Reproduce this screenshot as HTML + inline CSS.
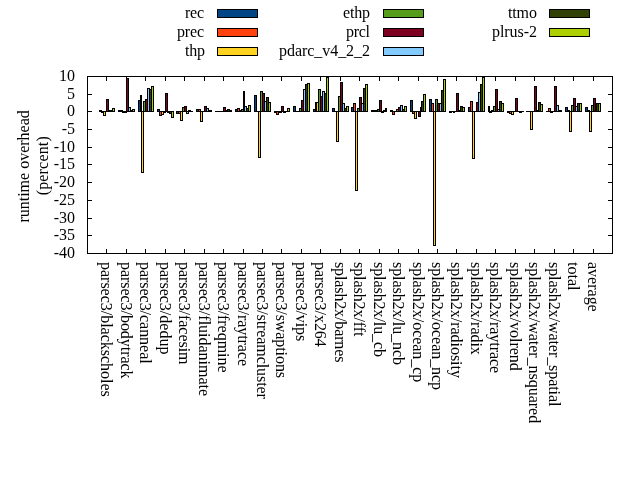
<!DOCTYPE html>
<html><head><meta charset="utf-8"><title>runtime overhead</title>
<style>
html,body{margin:0;padding:0;background:#fff;}
body{width:640px;height:480px;overflow:hidden;}
svg{display:block;}
text{font-family:"Liberation Serif","DejaVu Serif",serif;font-size:16px;fill:#000;}
</style></head><body>
<svg width="640" height="480" viewBox="0 0 640 480">
<rect x="0" y="0" width="640" height="480" fill="#fff"/>
<g shape-rendering="crispEdges">
<rect x="99" y="110" width="3" height="2" fill="#000"/>
<rect x="101" y="111" width="3" height="2" fill="#000"/>
<rect x="103" y="111" width="3" height="5" fill="#000"/>
<rect x="104" y="112" width="1" height="3" fill="#ffd320"/>
<rect x="105" y="111" width="2" height="1" fill="#000"/>
<rect x="106" y="99" width="3" height="13" fill="#000"/>
<rect x="107" y="100" width="1" height="11" fill="#7e0021"/>
<rect x="108" y="110" width="3" height="2" fill="#000"/>
<rect x="110" y="110" width="3" height="2" fill="#000"/>
<rect x="112" y="108" width="3" height="4" fill="#000"/>
<rect x="113" y="109" width="1" height="2" fill="#aecf00"/>
<rect x="118" y="110" width="3" height="2" fill="#000"/>
<rect x="120" y="110" width="3" height="2" fill="#000"/>
<rect x="122" y="111" width="3" height="2" fill="#000"/>
<rect x="124" y="111" width="3" height="2" fill="#000"/>
<rect x="126" y="78" width="3" height="34" fill="#000"/>
<rect x="127" y="79" width="1" height="32" fill="#7e0021"/>
<rect x="128" y="107" width="3" height="5" fill="#000"/>
<rect x="129" y="108" width="1" height="3" fill="#83caff"/>
<rect x="130" y="110" width="3" height="2" fill="#000"/>
<rect x="132" y="109" width="3" height="3" fill="#000"/>
<rect x="133" y="110" width="1" height="1" fill="#aecf00"/>
<rect x="138" y="100" width="3" height="12" fill="#000"/>
<rect x="139" y="101" width="1" height="10" fill="#004586"/>
<rect x="140" y="95" width="2" height="17" fill="#000"/>
<rect x="141" y="111" width="3" height="62" fill="#000"/>
<rect x="142" y="112" width="1" height="60" fill="#ffd320"/>
<rect x="143" y="101" width="3" height="11" fill="#000"/>
<rect x="144" y="102" width="1" height="9" fill="#579d1c"/>
<rect x="145" y="99" width="3" height="13" fill="#000"/>
<rect x="146" y="100" width="1" height="11" fill="#7e0021"/>
<rect x="147" y="88" width="3" height="24" fill="#000"/>
<rect x="148" y="89" width="1" height="22" fill="#83caff"/>
<rect x="149" y="89" width="3" height="23" fill="#000"/>
<rect x="150" y="90" width="1" height="21" fill="#314004"/>
<rect x="151" y="86" width="3" height="26" fill="#000"/>
<rect x="152" y="87" width="1" height="24" fill="#aecf00"/>
<rect x="157" y="109" width="3" height="3" fill="#000"/>
<rect x="158" y="110" width="1" height="1" fill="#004586"/>
<rect x="159" y="111" width="3" height="5" fill="#000"/>
<rect x="160" y="112" width="1" height="3" fill="#ff420e"/>
<rect x="161" y="111" width="3" height="4" fill="#000"/>
<rect x="162" y="112" width="1" height="2" fill="#ffd320"/>
<rect x="163" y="111" width="3" height="2" fill="#000"/>
<rect x="165" y="93" width="3" height="19" fill="#000"/>
<rect x="166" y="94" width="1" height="17" fill="#7e0021"/>
<rect x="167" y="111" width="3" height="2" fill="#000"/>
<rect x="169" y="111" width="3" height="3" fill="#000"/>
<rect x="170" y="112" width="1" height="1" fill="#314004"/>
<rect x="171" y="111" width="3" height="7" fill="#000"/>
<rect x="172" y="112" width="1" height="5" fill="#aecf00"/>
<rect x="176" y="111" width="3" height="3" fill="#000"/>
<rect x="177" y="112" width="1" height="1" fill="#004586"/>
<rect x="178" y="111" width="3" height="3" fill="#000"/>
<rect x="179" y="112" width="1" height="1" fill="#ff420e"/>
<rect x="180" y="111" width="3" height="10" fill="#000"/>
<rect x="181" y="112" width="1" height="8" fill="#ffd320"/>
<rect x="182" y="107" width="3" height="5" fill="#000"/>
<rect x="183" y="108" width="1" height="3" fill="#579d1c"/>
<rect x="184" y="106" width="3" height="6" fill="#000"/>
<rect x="185" y="107" width="1" height="4" fill="#7e0021"/>
<rect x="186" y="111" width="3" height="3" fill="#000"/>
<rect x="187" y="112" width="1" height="1" fill="#83caff"/>
<rect x="188" y="110" width="3" height="2" fill="#000"/>
<rect x="190" y="111" width="3" height="1" fill="#000"/>
<rect x="196" y="109" width="3" height="3" fill="#000"/>
<rect x="197" y="110" width="1" height="1" fill="#004586"/>
<rect x="198" y="109" width="3" height="3" fill="#000"/>
<rect x="199" y="110" width="1" height="1" fill="#ff420e"/>
<rect x="200" y="111" width="3" height="11" fill="#000"/>
<rect x="201" y="112" width="1" height="9" fill="#ffd320"/>
<rect x="202" y="111" width="3" height="1" fill="#000"/>
<rect x="204" y="106" width="3" height="6" fill="#000"/>
<rect x="205" y="107" width="1" height="4" fill="#7e0021"/>
<rect x="206" y="108" width="3" height="4" fill="#000"/>
<rect x="207" y="109" width="1" height="2" fill="#83caff"/>
<rect x="208" y="110" width="3" height="2" fill="#000"/>
<rect x="210" y="110" width="2" height="2" fill="#000"/>
<rect x="215" y="111" width="3" height="1" fill="#000"/>
<rect x="217" y="111" width="3" height="1" fill="#000"/>
<rect x="219" y="111" width="3" height="1" fill="#000"/>
<rect x="221" y="111" width="3" height="1" fill="#000"/>
<rect x="223" y="107" width="3" height="5" fill="#000"/>
<rect x="224" y="108" width="1" height="3" fill="#7e0021"/>
<rect x="225" y="110" width="3" height="2" fill="#000"/>
<rect x="227" y="109" width="3" height="3" fill="#000"/>
<rect x="228" y="110" width="1" height="1" fill="#314004"/>
<rect x="229" y="110" width="3" height="2" fill="#000"/>
<rect x="235" y="109" width="3" height="3" fill="#000"/>
<rect x="236" y="110" width="1" height="1" fill="#004586"/>
<rect x="237" y="108" width="3" height="4" fill="#000"/>
<rect x="238" y="109" width="1" height="2" fill="#ff420e"/>
<rect x="239" y="110" width="3" height="2" fill="#000"/>
<rect x="241" y="109" width="3" height="3" fill="#000"/>
<rect x="242" y="110" width="1" height="1" fill="#579d1c"/>
<rect x="243" y="91" width="2" height="21" fill="#000"/>
<rect x="244" y="106" width="3" height="6" fill="#000"/>
<rect x="245" y="107" width="1" height="4" fill="#83caff"/>
<rect x="246" y="108" width="3" height="4" fill="#000"/>
<rect x="247" y="109" width="1" height="2" fill="#314004"/>
<rect x="248" y="105" width="3" height="7" fill="#000"/>
<rect x="249" y="106" width="1" height="5" fill="#aecf00"/>
<rect x="254" y="95" width="3" height="17" fill="#000"/>
<rect x="255" y="96" width="1" height="15" fill="#004586"/>
<rect x="256" y="111" width="3" height="1" fill="#000"/>
<rect x="258" y="111" width="3" height="47" fill="#000"/>
<rect x="259" y="112" width="1" height="45" fill="#ffd320"/>
<rect x="260" y="91" width="3" height="21" fill="#000"/>
<rect x="261" y="92" width="1" height="19" fill="#579d1c"/>
<rect x="262" y="93" width="3" height="19" fill="#000"/>
<rect x="263" y="94" width="1" height="17" fill="#7e0021"/>
<rect x="264" y="101" width="3" height="11" fill="#000"/>
<rect x="265" y="102" width="1" height="9" fill="#83caff"/>
<rect x="266" y="97" width="3" height="15" fill="#000"/>
<rect x="267" y="98" width="1" height="13" fill="#314004"/>
<rect x="268" y="102" width="3" height="10" fill="#000"/>
<rect x="269" y="103" width="1" height="8" fill="#aecf00"/>
<rect x="274" y="111" width="3" height="2" fill="#000"/>
<rect x="276" y="111" width="3" height="4" fill="#000"/>
<rect x="277" y="112" width="1" height="2" fill="#ff420e"/>
<rect x="278" y="111" width="3" height="2" fill="#000"/>
<rect x="280" y="111" width="2" height="2" fill="#000"/>
<rect x="281" y="106" width="3" height="6" fill="#000"/>
<rect x="282" y="107" width="1" height="4" fill="#7e0021"/>
<rect x="283" y="111" width="3" height="2" fill="#000"/>
<rect x="285" y="111" width="3" height="1" fill="#000"/>
<rect x="287" y="108" width="3" height="4" fill="#000"/>
<rect x="288" y="109" width="1" height="2" fill="#aecf00"/>
<rect x="293" y="106" width="3" height="6" fill="#000"/>
<rect x="294" y="107" width="1" height="4" fill="#004586"/>
<rect x="295" y="111" width="3" height="1" fill="#000"/>
<rect x="297" y="111" width="3" height="1" fill="#000"/>
<rect x="299" y="108" width="3" height="4" fill="#000"/>
<rect x="300" y="109" width="1" height="2" fill="#579d1c"/>
<rect x="301" y="100" width="3" height="12" fill="#000"/>
<rect x="302" y="101" width="1" height="10" fill="#7e0021"/>
<rect x="303" y="89" width="3" height="23" fill="#000"/>
<rect x="304" y="90" width="1" height="21" fill="#83caff"/>
<rect x="305" y="84" width="3" height="28" fill="#000"/>
<rect x="306" y="85" width="1" height="26" fill="#314004"/>
<rect x="307" y="83" width="3" height="29" fill="#000"/>
<rect x="308" y="84" width="1" height="27" fill="#aecf00"/>
<rect x="313" y="109" width="3" height="3" fill="#000"/>
<rect x="314" y="110" width="1" height="1" fill="#004586"/>
<rect x="315" y="102" width="2" height="10" fill="#000"/>
<rect x="316" y="102" width="3" height="10" fill="#000"/>
<rect x="317" y="103" width="1" height="8" fill="#ffd320"/>
<rect x="318" y="89" width="3" height="23" fill="#000"/>
<rect x="319" y="90" width="1" height="21" fill="#579d1c"/>
<rect x="320" y="96" width="3" height="16" fill="#000"/>
<rect x="321" y="97" width="1" height="14" fill="#7e0021"/>
<rect x="322" y="91" width="3" height="21" fill="#000"/>
<rect x="323" y="92" width="1" height="19" fill="#83caff"/>
<rect x="324" y="93" width="3" height="19" fill="#000"/>
<rect x="325" y="94" width="1" height="17" fill="#314004"/>
<rect x="326" y="77" width="3" height="35" fill="#000"/>
<rect x="327" y="78" width="1" height="33" fill="#aecf00"/>
<rect x="332" y="108" width="3" height="4" fill="#000"/>
<rect x="333" y="109" width="1" height="2" fill="#004586"/>
<rect x="334" y="111" width="3" height="1" fill="#000"/>
<rect x="336" y="111" width="3" height="31" fill="#000"/>
<rect x="337" y="112" width="1" height="29" fill="#ffd320"/>
<rect x="338" y="96" width="3" height="16" fill="#000"/>
<rect x="339" y="97" width="1" height="14" fill="#579d1c"/>
<rect x="340" y="82" width="3" height="30" fill="#000"/>
<rect x="341" y="83" width="1" height="28" fill="#7e0021"/>
<rect x="342" y="103" width="3" height="9" fill="#000"/>
<rect x="343" y="104" width="1" height="7" fill="#83caff"/>
<rect x="344" y="108" width="3" height="4" fill="#000"/>
<rect x="345" y="109" width="1" height="2" fill="#314004"/>
<rect x="346" y="106" width="3" height="6" fill="#000"/>
<rect x="347" y="107" width="1" height="4" fill="#aecf00"/>
<rect x="351" y="107" width="3" height="5" fill="#000"/>
<rect x="352" y="108" width="1" height="3" fill="#004586"/>
<rect x="353" y="103" width="3" height="9" fill="#000"/>
<rect x="354" y="104" width="1" height="7" fill="#ff420e"/>
<rect x="355" y="111" width="3" height="80" fill="#000"/>
<rect x="356" y="112" width="1" height="78" fill="#ffd320"/>
<rect x="357" y="108" width="3" height="4" fill="#000"/>
<rect x="358" y="109" width="1" height="2" fill="#579d1c"/>
<rect x="359" y="97" width="3" height="15" fill="#000"/>
<rect x="360" y="98" width="1" height="13" fill="#7e0021"/>
<rect x="361" y="103" width="3" height="9" fill="#000"/>
<rect x="362" y="104" width="1" height="7" fill="#83caff"/>
<rect x="363" y="88" width="3" height="24" fill="#000"/>
<rect x="364" y="89" width="1" height="22" fill="#314004"/>
<rect x="365" y="84" width="3" height="28" fill="#000"/>
<rect x="366" y="85" width="1" height="26" fill="#aecf00"/>
<rect x="371" y="110" width="3" height="2" fill="#000"/>
<rect x="373" y="110" width="3" height="2" fill="#000"/>
<rect x="375" y="110" width="3" height="2" fill="#000"/>
<rect x="377" y="109" width="3" height="3" fill="#000"/>
<rect x="378" y="110" width="1" height="1" fill="#579d1c"/>
<rect x="379" y="100" width="3" height="12" fill="#000"/>
<rect x="380" y="101" width="1" height="10" fill="#7e0021"/>
<rect x="381" y="111" width="3" height="2" fill="#000"/>
<rect x="383" y="110" width="3" height="2" fill="#000"/>
<rect x="385" y="108" width="2" height="4" fill="#000"/>
<rect x="390" y="110" width="3" height="2" fill="#000"/>
<rect x="392" y="111" width="3" height="4" fill="#000"/>
<rect x="393" y="112" width="1" height="2" fill="#ff420e"/>
<rect x="394" y="111" width="3" height="1" fill="#000"/>
<rect x="396" y="109" width="3" height="3" fill="#000"/>
<rect x="397" y="110" width="1" height="1" fill="#579d1c"/>
<rect x="398" y="107" width="3" height="5" fill="#000"/>
<rect x="399" y="108" width="1" height="3" fill="#7e0021"/>
<rect x="400" y="105" width="3" height="7" fill="#000"/>
<rect x="401" y="106" width="1" height="5" fill="#83caff"/>
<rect x="402" y="109" width="3" height="3" fill="#000"/>
<rect x="403" y="110" width="1" height="1" fill="#314004"/>
<rect x="404" y="106" width="3" height="6" fill="#000"/>
<rect x="405" y="107" width="1" height="4" fill="#aecf00"/>
<rect x="410" y="100" width="3" height="12" fill="#000"/>
<rect x="411" y="101" width="1" height="10" fill="#004586"/>
<rect x="412" y="111" width="3" height="3" fill="#000"/>
<rect x="413" y="112" width="1" height="1" fill="#ff420e"/>
<rect x="414" y="111" width="3" height="8" fill="#000"/>
<rect x="415" y="112" width="1" height="6" fill="#ffd320"/>
<rect x="416" y="111" width="3" height="1" fill="#000"/>
<rect x="418" y="111" width="3" height="6" fill="#000"/>
<rect x="419" y="112" width="1" height="4" fill="#7e0021"/>
<rect x="420" y="107" width="2" height="5" fill="#000"/>
<rect x="421" y="101" width="3" height="11" fill="#000"/>
<rect x="422" y="102" width="1" height="9" fill="#314004"/>
<rect x="423" y="94" width="3" height="18" fill="#000"/>
<rect x="424" y="95" width="1" height="16" fill="#aecf00"/>
<rect x="429" y="99" width="3" height="13" fill="#000"/>
<rect x="430" y="100" width="1" height="11" fill="#004586"/>
<rect x="431" y="103" width="3" height="9" fill="#000"/>
<rect x="432" y="104" width="1" height="7" fill="#ff420e"/>
<rect x="433" y="111" width="3" height="135" fill="#000"/>
<rect x="434" y="112" width="1" height="133" fill="#ffd320"/>
<rect x="435" y="99" width="3" height="13" fill="#000"/>
<rect x="436" y="100" width="1" height="11" fill="#579d1c"/>
<rect x="437" y="103" width="3" height="9" fill="#000"/>
<rect x="438" y="104" width="1" height="7" fill="#7e0021"/>
<rect x="439" y="103" width="3" height="9" fill="#000"/>
<rect x="440" y="104" width="1" height="7" fill="#83caff"/>
<rect x="441" y="90" width="3" height="22" fill="#000"/>
<rect x="442" y="91" width="1" height="20" fill="#314004"/>
<rect x="443" y="79" width="3" height="33" fill="#000"/>
<rect x="444" y="80" width="1" height="31" fill="#aecf00"/>
<rect x="449" y="111" width="3" height="2" fill="#000"/>
<rect x="451" y="111" width="3" height="1" fill="#000"/>
<rect x="453" y="111" width="2" height="2" fill="#000"/>
<rect x="454" y="111" width="3" height="1" fill="#000"/>
<rect x="456" y="93" width="3" height="19" fill="#000"/>
<rect x="457" y="94" width="1" height="17" fill="#7e0021"/>
<rect x="458" y="110" width="3" height="2" fill="#000"/>
<rect x="460" y="106" width="3" height="6" fill="#000"/>
<rect x="461" y="107" width="1" height="4" fill="#314004"/>
<rect x="462" y="107" width="3" height="5" fill="#000"/>
<rect x="463" y="108" width="1" height="3" fill="#aecf00"/>
<rect x="468" y="107" width="3" height="5" fill="#000"/>
<rect x="469" y="108" width="1" height="3" fill="#004586"/>
<rect x="470" y="101" width="3" height="11" fill="#000"/>
<rect x="471" y="102" width="1" height="9" fill="#ff420e"/>
<rect x="472" y="111" width="3" height="48" fill="#000"/>
<rect x="473" y="112" width="1" height="46" fill="#ffd320"/>
<rect x="474" y="111" width="3" height="1" fill="#000"/>
<rect x="476" y="102" width="3" height="10" fill="#000"/>
<rect x="477" y="103" width="1" height="8" fill="#7e0021"/>
<rect x="478" y="92" width="3" height="20" fill="#000"/>
<rect x="479" y="93" width="1" height="18" fill="#83caff"/>
<rect x="480" y="84" width="3" height="28" fill="#000"/>
<rect x="481" y="85" width="1" height="26" fill="#314004"/>
<rect x="482" y="77" width="3" height="35" fill="#000"/>
<rect x="483" y="78" width="1" height="33" fill="#aecf00"/>
<rect x="488" y="106" width="2" height="6" fill="#000"/>
<rect x="489" y="111" width="3" height="2" fill="#000"/>
<rect x="491" y="110" width="3" height="2" fill="#000"/>
<rect x="493" y="106" width="3" height="6" fill="#000"/>
<rect x="494" y="107" width="1" height="4" fill="#579d1c"/>
<rect x="495" y="89" width="3" height="23" fill="#000"/>
<rect x="496" y="90" width="1" height="21" fill="#7e0021"/>
<rect x="497" y="109" width="3" height="3" fill="#000"/>
<rect x="498" y="110" width="1" height="1" fill="#83caff"/>
<rect x="499" y="101" width="3" height="11" fill="#000"/>
<rect x="500" y="102" width="1" height="9" fill="#314004"/>
<rect x="501" y="103" width="3" height="9" fill="#000"/>
<rect x="502" y="104" width="1" height="7" fill="#aecf00"/>
<rect x="507" y="111" width="3" height="2" fill="#000"/>
<rect x="509" y="111" width="3" height="3" fill="#000"/>
<rect x="510" y="112" width="1" height="1" fill="#ff420e"/>
<rect x="511" y="111" width="3" height="4" fill="#000"/>
<rect x="512" y="112" width="1" height="2" fill="#ffd320"/>
<rect x="513" y="111" width="3" height="1" fill="#000"/>
<rect x="515" y="98" width="3" height="14" fill="#000"/>
<rect x="516" y="99" width="1" height="12" fill="#7e0021"/>
<rect x="517" y="111" width="3" height="1" fill="#000"/>
<rect x="519" y="111" width="3" height="2" fill="#000"/>
<rect x="521" y="111" width="3" height="1" fill="#000"/>
<rect x="526" y="111" width="3" height="1" fill="#000"/>
<rect x="528" y="111" width="3" height="1" fill="#000"/>
<rect x="530" y="111" width="3" height="19" fill="#000"/>
<rect x="531" y="112" width="1" height="17" fill="#ffd320"/>
<rect x="532" y="111" width="3" height="1" fill="#000"/>
<rect x="534" y="86" width="3" height="26" fill="#000"/>
<rect x="535" y="87" width="1" height="24" fill="#7e0021"/>
<rect x="536" y="110" width="3" height="2" fill="#000"/>
<rect x="538" y="102" width="3" height="10" fill="#000"/>
<rect x="539" y="103" width="1" height="8" fill="#314004"/>
<rect x="540" y="104" width="3" height="8" fill="#000"/>
<rect x="541" y="105" width="1" height="6" fill="#aecf00"/>
<rect x="546" y="111" width="3" height="1" fill="#000"/>
<rect x="548" y="108" width="3" height="4" fill="#000"/>
<rect x="549" y="109" width="1" height="2" fill="#ff420e"/>
<rect x="550" y="111" width="3" height="2" fill="#000"/>
<rect x="552" y="111" width="3" height="1" fill="#000"/>
<rect x="554" y="86" width="3" height="26" fill="#000"/>
<rect x="555" y="87" width="1" height="24" fill="#7e0021"/>
<rect x="556" y="105" width="3" height="7" fill="#000"/>
<rect x="557" y="106" width="1" height="5" fill="#83caff"/>
<rect x="558" y="110" width="3" height="2" fill="#000"/>
<rect x="560" y="110" width="2" height="2" fill="#000"/>
<rect x="565" y="107" width="3" height="5" fill="#000"/>
<rect x="566" y="108" width="1" height="3" fill="#004586"/>
<rect x="567" y="110" width="3" height="2" fill="#000"/>
<rect x="569" y="111" width="3" height="21" fill="#000"/>
<rect x="570" y="112" width="1" height="19" fill="#ffd320"/>
<rect x="571" y="105" width="3" height="7" fill="#000"/>
<rect x="572" y="106" width="1" height="5" fill="#579d1c"/>
<rect x="573" y="98" width="3" height="14" fill="#000"/>
<rect x="574" y="99" width="1" height="12" fill="#7e0021"/>
<rect x="575" y="106" width="3" height="6" fill="#000"/>
<rect x="576" y="107" width="1" height="4" fill="#83caff"/>
<rect x="577" y="103" width="3" height="9" fill="#000"/>
<rect x="578" y="104" width="1" height="7" fill="#314004"/>
<rect x="579" y="103" width="3" height="9" fill="#000"/>
<rect x="580" y="104" width="1" height="7" fill="#aecf00"/>
<rect x="585" y="107" width="3" height="5" fill="#000"/>
<rect x="586" y="108" width="1" height="3" fill="#004586"/>
<rect x="587" y="110" width="3" height="2" fill="#000"/>
<rect x="589" y="111" width="3" height="21" fill="#000"/>
<rect x="590" y="112" width="1" height="19" fill="#ffd320"/>
<rect x="591" y="105" width="3" height="7" fill="#000"/>
<rect x="592" y="106" width="1" height="5" fill="#579d1c"/>
<rect x="593" y="98" width="3" height="14" fill="#000"/>
<rect x="594" y="99" width="1" height="12" fill="#7e0021"/>
<rect x="595" y="106" width="2" height="6" fill="#000"/>
<rect x="596" y="103" width="3" height="9" fill="#000"/>
<rect x="597" y="104" width="1" height="7" fill="#314004"/>
<rect x="598" y="103" width="3" height="9" fill="#000"/>
<rect x="599" y="104" width="1" height="7" fill="#aecf00"/>
<rect x="87" y="76" width="526" height="1" fill="#000"/>
<rect x="87" y="253" width="526" height="1" fill="#000"/>
<rect x="87" y="76" width="1" height="178" fill="#000"/>
<rect x="612" y="76" width="1" height="178" fill="#000"/>
<rect x="87" y="76" width="5" height="1" fill="#000"/>
<rect x="608" y="76" width="5" height="1" fill="#000"/>
<rect x="87" y="94" width="5" height="1" fill="#000"/>
<rect x="608" y="94" width="5" height="1" fill="#000"/>
<rect x="87" y="111" width="5" height="1" fill="#000"/>
<rect x="608" y="111" width="5" height="1" fill="#000"/>
<rect x="87" y="129" width="5" height="1" fill="#000"/>
<rect x="608" y="129" width="5" height="1" fill="#000"/>
<rect x="87" y="147" width="5" height="1" fill="#000"/>
<rect x="608" y="147" width="5" height="1" fill="#000"/>
<rect x="87" y="164" width="5" height="1" fill="#000"/>
<rect x="608" y="164" width="5" height="1" fill="#000"/>
<rect x="87" y="182" width="5" height="1" fill="#000"/>
<rect x="608" y="182" width="5" height="1" fill="#000"/>
<rect x="87" y="200" width="5" height="1" fill="#000"/>
<rect x="608" y="200" width="5" height="1" fill="#000"/>
<rect x="87" y="218" width="5" height="1" fill="#000"/>
<rect x="608" y="218" width="5" height="1" fill="#000"/>
<rect x="87" y="235" width="5" height="1" fill="#000"/>
<rect x="608" y="235" width="5" height="1" fill="#000"/>
<rect x="87" y="253" width="5" height="1" fill="#000"/>
<rect x="608" y="253" width="5" height="1" fill="#000"/>
<rect x="106" y="76" width="1" height="5" fill="#000"/>
<rect x="106" y="249" width="1" height="5" fill="#000"/>
<rect x="126" y="76" width="1" height="5" fill="#000"/>
<rect x="126" y="249" width="1" height="5" fill="#000"/>
<rect x="145" y="76" width="1" height="5" fill="#000"/>
<rect x="145" y="249" width="1" height="5" fill="#000"/>
<rect x="165" y="76" width="1" height="5" fill="#000"/>
<rect x="165" y="249" width="1" height="5" fill="#000"/>
<rect x="184" y="76" width="1" height="5" fill="#000"/>
<rect x="184" y="249" width="1" height="5" fill="#000"/>
<rect x="204" y="76" width="1" height="5" fill="#000"/>
<rect x="204" y="249" width="1" height="5" fill="#000"/>
<rect x="223" y="76" width="1" height="5" fill="#000"/>
<rect x="223" y="249" width="1" height="5" fill="#000"/>
<rect x="243" y="76" width="1" height="5" fill="#000"/>
<rect x="243" y="249" width="1" height="5" fill="#000"/>
<rect x="262" y="76" width="1" height="5" fill="#000"/>
<rect x="262" y="249" width="1" height="5" fill="#000"/>
<rect x="281" y="76" width="1" height="5" fill="#000"/>
<rect x="281" y="249" width="1" height="5" fill="#000"/>
<rect x="301" y="76" width="1" height="5" fill="#000"/>
<rect x="301" y="249" width="1" height="5" fill="#000"/>
<rect x="320" y="76" width="1" height="5" fill="#000"/>
<rect x="320" y="249" width="1" height="5" fill="#000"/>
<rect x="340" y="76" width="1" height="5" fill="#000"/>
<rect x="340" y="249" width="1" height="5" fill="#000"/>
<rect x="359" y="76" width="1" height="5" fill="#000"/>
<rect x="359" y="249" width="1" height="5" fill="#000"/>
<rect x="379" y="76" width="1" height="5" fill="#000"/>
<rect x="379" y="249" width="1" height="5" fill="#000"/>
<rect x="398" y="76" width="1" height="5" fill="#000"/>
<rect x="398" y="249" width="1" height="5" fill="#000"/>
<rect x="418" y="76" width="1" height="5" fill="#000"/>
<rect x="418" y="249" width="1" height="5" fill="#000"/>
<rect x="437" y="76" width="1" height="5" fill="#000"/>
<rect x="437" y="249" width="1" height="5" fill="#000"/>
<rect x="456" y="76" width="1" height="5" fill="#000"/>
<rect x="456" y="249" width="1" height="5" fill="#000"/>
<rect x="476" y="76" width="1" height="5" fill="#000"/>
<rect x="476" y="249" width="1" height="5" fill="#000"/>
<rect x="495" y="76" width="1" height="5" fill="#000"/>
<rect x="495" y="249" width="1" height="5" fill="#000"/>
<rect x="515" y="76" width="1" height="5" fill="#000"/>
<rect x="515" y="249" width="1" height="5" fill="#000"/>
<rect x="534" y="76" width="1" height="5" fill="#000"/>
<rect x="534" y="249" width="1" height="5" fill="#000"/>
<rect x="554" y="76" width="1" height="5" fill="#000"/>
<rect x="554" y="249" width="1" height="5" fill="#000"/>
<rect x="573" y="76" width="1" height="5" fill="#000"/>
<rect x="573" y="249" width="1" height="5" fill="#000"/>
<rect x="593" y="76" width="1" height="5" fill="#000"/>
<rect x="593" y="249" width="1" height="5" fill="#000"/>
<rect x="217" y="9" width="41" height="9" fill="#000"/>
<rect x="218" y="10" width="39" height="7" fill="#004586"/>
<rect x="217" y="28" width="41" height="9" fill="#000"/>
<rect x="218" y="29" width="39" height="7" fill="#ff420e"/>
<rect x="217" y="47" width="41" height="9" fill="#000"/>
<rect x="218" y="48" width="39" height="7" fill="#ffd320"/>
<rect x="383" y="9" width="41" height="9" fill="#000"/>
<rect x="384" y="10" width="39" height="7" fill="#579d1c"/>
<rect x="383" y="28" width="41" height="9" fill="#000"/>
<rect x="384" y="29" width="39" height="7" fill="#7e0021"/>
<rect x="383" y="47" width="41" height="9" fill="#000"/>
<rect x="384" y="48" width="39" height="7" fill="#83caff"/>
<rect x="549" y="9" width="41" height="9" fill="#000"/>
<rect x="550" y="10" width="39" height="7" fill="#314004"/>
<rect x="549" y="28" width="41" height="9" fill="#000"/>
<rect x="550" y="29" width="39" height="7" fill="#aecf00"/>
</g>
<g>
<text x="75" y="81" text-anchor="end">10</text>
<text x="75" y="99" text-anchor="end">5</text>
<text x="75" y="116" text-anchor="end">0</text>
<text x="75" y="134" text-anchor="end">-5</text>
<text x="75" y="152" text-anchor="end">-10</text>
<text x="75" y="169" text-anchor="end">-15</text>
<text x="75" y="187" text-anchor="end">-20</text>
<text x="75" y="205" text-anchor="end">-25</text>
<text x="75" y="223" text-anchor="end">-30</text>
<text x="75" y="240" text-anchor="end">-35</text>
<text x="75" y="258" text-anchor="end">-40</text>
<text transform="translate(101 262) rotate(90)" textLength="134.81" lengthAdjust="spacing">parsec3/blackscholes</text>
<text transform="translate(121 262) rotate(90)" textLength="116.53" lengthAdjust="spacing">parsec3/bodytrack</text>
<text transform="translate(140 262) rotate(90)" textLength="101.66" lengthAdjust="spacing">parsec3/canneal</text>
<text transform="translate(160 262) rotate(90)" textLength="92.41" lengthAdjust="spacing">parsec3/dedup</text>
<text transform="translate(179 262) rotate(90)" textLength="102.56" lengthAdjust="spacing">parsec3/facesim</text>
<text transform="translate(199 262) rotate(90)" textLength="134.17" lengthAdjust="spacing">parsec3/fluidanimate</text>
<text transform="translate(218 262) rotate(90)" textLength="110.56" lengthAdjust="spacing">parsec3/freqmine</text>
<text transform="translate(238 262) rotate(90)" textLength="104.06" lengthAdjust="spacing">parsec3/raytrace</text>
<text transform="translate(257 262) rotate(90)" textLength="136.86" lengthAdjust="spacing">parsec3/streamcluster</text>
<text transform="translate(276 262) rotate(90)" textLength="116.06" lengthAdjust="spacing">parsec3/swaptions</text>
<text transform="translate(296 262) rotate(90)" textLength="79.23" lengthAdjust="spacing">parsec3/vips</text>
<text transform="translate(315 262) rotate(90)" textLength="84.81" lengthAdjust="spacing">parsec3/x264</text>
<text transform="translate(335 262) rotate(90)" textLength="100.45" lengthAdjust="spacing">splash2x/barnes</text>
<text transform="translate(354 262) rotate(90)" textLength="74.52" lengthAdjust="spacing">splash2x/fft</text>
<text transform="translate(374 262) rotate(90)" textLength="95.00" lengthAdjust="spacing">splash2x/lu_cb</text>
<text transform="translate(393 262) rotate(90)" textLength="103.00" lengthAdjust="spacing">splash2x/lu_ncb</text>
<text transform="translate(413 262) rotate(90)" textLength="120.36" lengthAdjust="spacing">splash2x/ocean_cp</text>
<text transform="translate(432 262) rotate(90)" textLength="128.11" lengthAdjust="spacing">splash2x/ocean_ncp</text>
<text transform="translate(451 262) rotate(90)" textLength="115.94" lengthAdjust="spacing">splash2x/radiosity</text>
<text transform="translate(471 262) rotate(90)" textLength="92.83" lengthAdjust="spacing">splash2x/radix</text>
<text transform="translate(490 262) rotate(90)" textLength="111.20" lengthAdjust="spacing">splash2x/raytrace</text>
<text transform="translate(510 262) rotate(90)" textLength="108.83" lengthAdjust="spacing">splash2x/volrend</text>
<text transform="translate(529 262) rotate(90)" textLength="161.13" lengthAdjust="spacing">splash2x/water_nsquared</text>
<text transform="translate(549 262) rotate(90)" textLength="144.50" lengthAdjust="spacing">splash2x/water_spatial</text>
<text transform="translate(568 262) rotate(90)" textLength="28.44" lengthAdjust="spacing">total</text>
<text transform="translate(588 262) rotate(90)" textLength="49.73" lengthAdjust="spacing">average</text>
<text transform="translate(29 166.4) rotate(-90)" text-anchor="middle">runtime overhead</text>
<text transform="translate(48.2 165.7) rotate(-90)" text-anchor="middle" style="letter-spacing:0.18px">(percent)</text>
<text x="185" y="18" textLength="19.00" lengthAdjust="spacing">rec</text>
<text x="177" y="37" textLength="27.00" lengthAdjust="spacing">prec</text>
<text x="185.1" y="56" textLength="20.00" lengthAdjust="spacing">thp</text>
<text x="343" y="18" textLength="27.00" lengthAdjust="spacing">ethp</text>
<text x="346" y="37" textLength="24.00" lengthAdjust="spacing">prcl</text>
<text x="279" y="56" textLength="91.00" lengthAdjust="spacing">pdarc_v4_2_2</text>
<text x="507.9" y="18" textLength="29.00" lengthAdjust="spacing">ttmo</text>
<text x="492.0" y="37" textLength="44.90" lengthAdjust="spacing">plrus-2</text>
</g>
</svg>
</body></html>
